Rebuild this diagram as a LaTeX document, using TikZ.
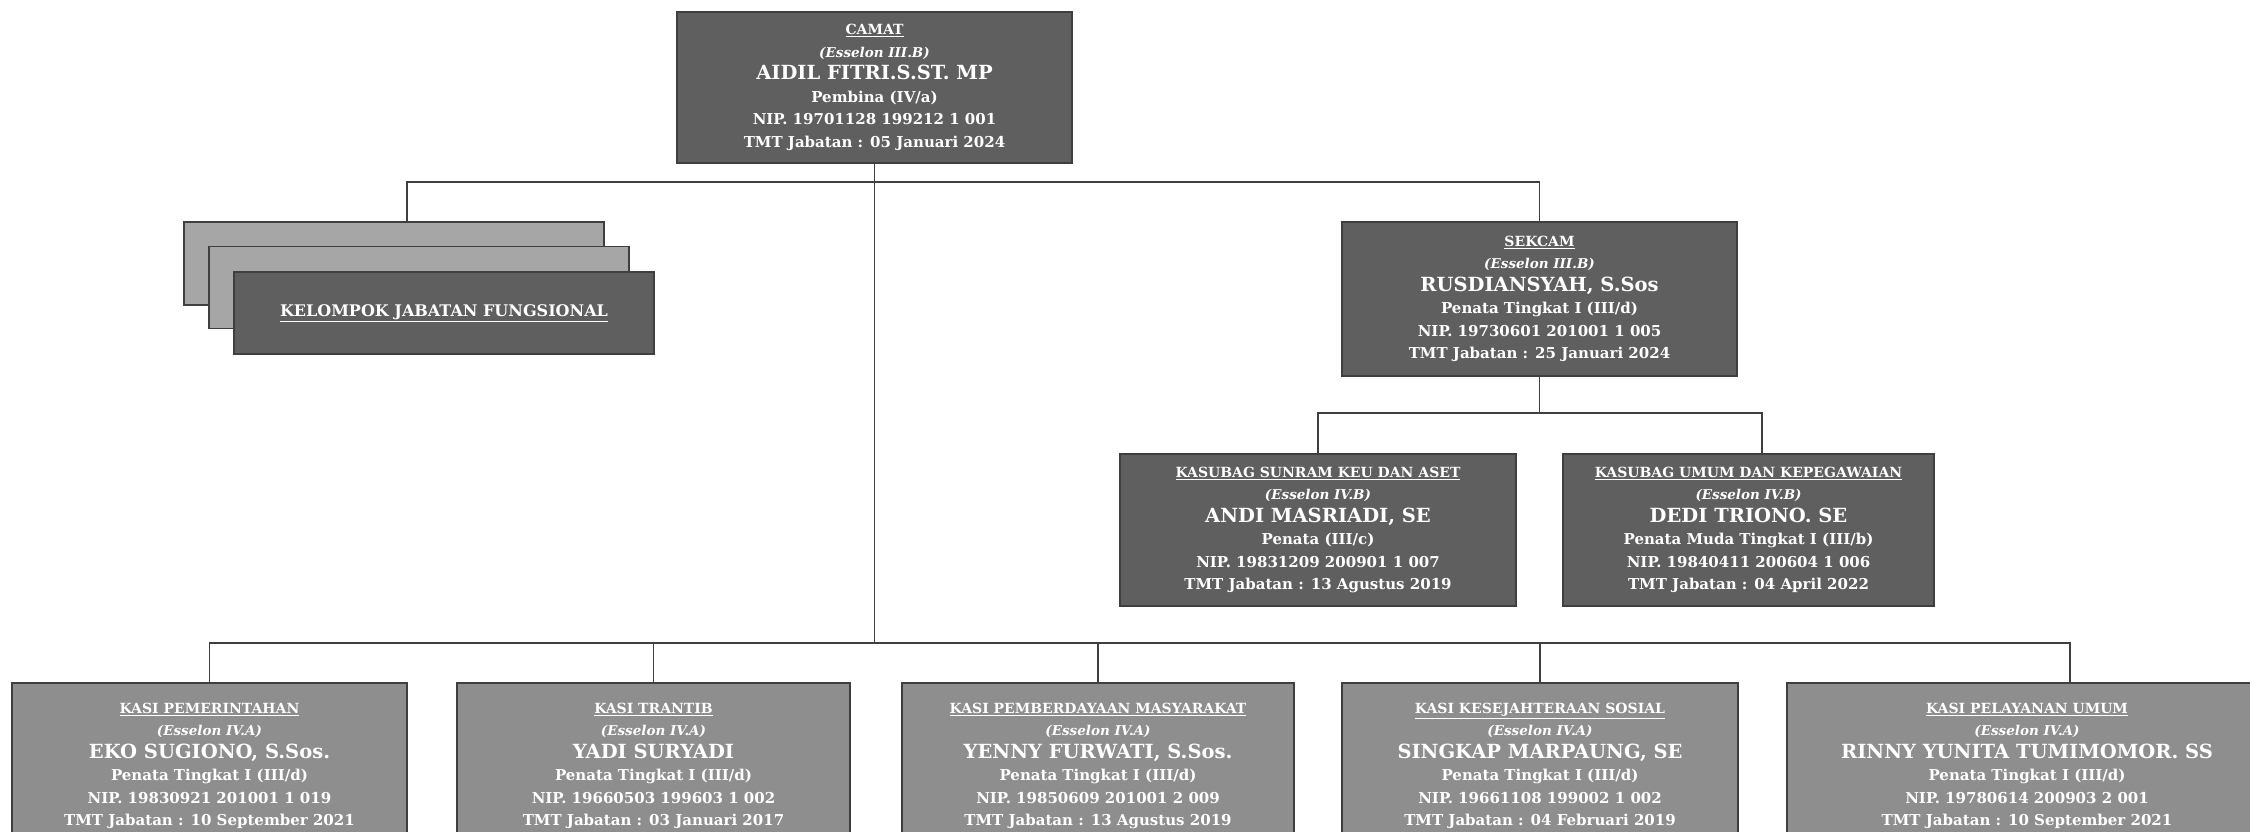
\documentclass[tikz,border=0pt]{standalone}
\usepackage{fontspec}
\setmainfont{DejaVu Serif}
\usetikzlibrary{positioning}
\definecolor{abugelap}{HTML}{5F5F5F}
\definecolor{abusedang}{HTML}{8E8E8E}
\definecolor{abuterang}{HTML}{A6A6A6}
\definecolor{garisabu}{HTML}{3F3F3F}
\tikzset{
    kotak/.style = {rectangle, draw=garisabu, line width=1.5pt, fill=abugelap, align=center, text=white, font=\bfseries\fontsize{15}{22.5}\selectfont, inner sep=0pt},
    kotakg/.style = {kotak, fill=abusedang},
    kotakl/.style = {kotak, fill=abuterang},
    edgen/.style = {-, line width=1.6pt, garisabu},
}
\newcommand{\isijab}[6]{%
  {\fontsize{14}{20}\selectfont\underline{#1}}\\
  {\fontsize{13.5}{20}\selectfont\itshape #2}\\
  {\fontsize{19.5}{25}\selectfont #3}\\
  #4\\
  NIP. #5\\
  TMT Jabatan : #6}

\begin{document}
\begin{tikzpicture}[x=1pt, y=-1pt]
\useasboundingbox (0,0) rectangle (2250,831);
% camat
\node[kotak, minimum width=395pt, minimum height=151pt] (camat) at (874.5,87.5)
  {\isijab{CAMAT}{(Esselon III.B)}{AIDIL FITRI.S.ST. MP}{Pembina (IV/a)}{19701128 199212 1 001}{05 Januari 2024}};
% kelompok jabatan fungsional
\node[kotakl, minimum width=420pt, minimum height=83pt] (kjf1) at (394,263.5) {};
\node[kotakl, minimum width=420pt, minimum height=82pt] (kjf2) at (419,287.5) {};
\node[kotak, minimum width=420pt, minimum height=82pt, font=\bfseries\fontsize{16}{20}\selectfont] (kjf3) at (444,313) {\underline{KELOMPOK JABATAN FUNGSIONAL}};
% sekcam
\node[kotak, minimum width=395pt, minimum height=154pt] (sekcam) at (1539.5,299)
  {\isijab{SEKCAM}{(Esselon III.B)}{RUSDIANSYAH, S.Sos}{Penata Tingkat I (III/d)}{19730601 201001 1 005}{25 Januari 2024}};
\node[kotak, minimum width=396pt, minimum height=152pt] (sunram) at (1318,530)
  {\isijab{KASUBAG SUNRAM KEU DAN ASET}{(Esselon IV.B)}{ANDI MASRIADI, SE}{Penata (III/c)}{19831209 200901 1 007}{13 Agustus 2019}};
\node[kotak, minimum width=371pt, minimum height=152pt] (umum) at (1748.5,530)
  {\isijab{KASUBAG UMUM DAN KEPEGAWAIAN}{(Esselon IV.B)}{DEDI TRIONO. SE}{Penata Muda Tingkat I (III/b)}{19840411 200604 1 006}{04 April 2022}};
% kasi
\node[kotakg, minimum width=395pt, minimum height=166pt] (kasi1) at (209.5,766)
  {\isijab{KASI PEMERINTAHAN}{(Esselon IV.A)}{EKO SUGIONO, S.Sos.}{Penata Tingkat I (III/d)}{19830921 201001 1 019}{10 September 2021}};
\node[kotakg, minimum width=393pt, minimum height=166pt] (kasi2) at (653.5,766)
  {\isijab{KASI TRANTIB}{(Esselon IV.A)}{YADI SURYADI}{Penata Tingkat I (III/d)}{19660503 199603 1 002}{03 Januari 2017}};
\node[kotakg, minimum width=392pt, minimum height=166pt] (kasi3) at (1098,766)
  {\isijab{KASI PEMBERDAYAAN MASYARAKAT}{(Esselon IV.A)}{YENNY FURWATI, S.Sos.}{Penata Tingkat I (III/d)}{19850609 201001 2 009}{13 Agustus 2019}};
\node[kotakg, minimum width=396pt, minimum height=166pt] (kasi4) at (1540,766)
  {\isijab{KASI KESEJAHTERAAN SOSIAL}{(Esselon IV.A)}{SINGKAP MARPAUNG, SE}{Penata Tingkat I (III/d)}{19661108 199002 1 002}{04 Februari 2019}};
\node[kotakg, minimum width=480pt, minimum height=166pt] (kasi5) at (2027,766)
  {\isijab{KASI PELAYANAN UMUM}{(Esselon IV.A)}{RINNY YUNITA TUMIMOMOR. SS}{Penata Tingkat I (III/d)}{19780614 200903 2 001}{10 September 2021}};
% garis
\coordinate (bus1) at (0,182);
\coordinate (bus2) at (0,413);
\coordinate (bus3) at (0,643);
\coordinate (t0) at (407,182);
\coordinate (t1) at (1762,413);
\coordinate (t2) at (2070,643);
\draw[edgen] (camat.south) -- (camat.south |- bus3);
\draw[edgen] (kjf1.north -| t0) -- (t0) -- (sekcam.north |- bus1) -- (sekcam.north);
\draw[edgen] (sekcam.south) -- (sekcam.south |- bus2);
\draw[edgen] (sunram.north) |- (t1) -- (umum.north -| t1);
\draw[edgen] (kasi1.north) |- (t2) -- (kasi5.north -| t2);
\foreach \k in {kasi2,kasi3,kasi4}
  \draw[edgen] (\k.north) -- (\k.north |- bus3);
\end{tikzpicture}
\end{document}
